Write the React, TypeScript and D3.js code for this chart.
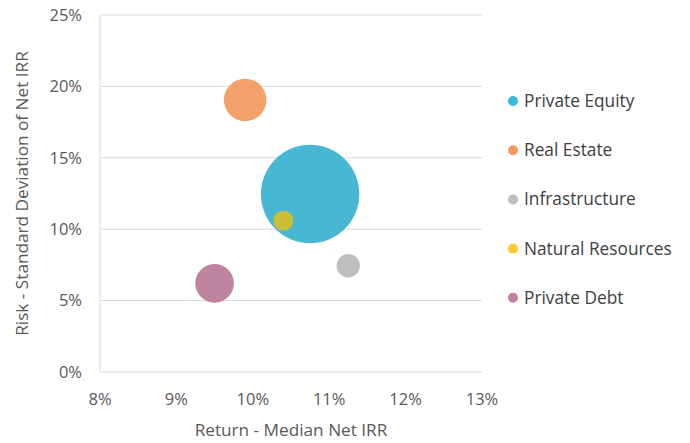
import React from "react";
import * as d3 from "d3";

const categories = ["Private Equity", "Real Estate", "Infrastructure", "Natural Resources", "Private Debt"];
const returns = [10.75, 9.9, 11.25, 10.4, 9.5];
const risks = [12.46, 19.05, 7.44, 10.6, 6.21];
const sizes = [100, 18.7, 5.6, 4.1, 15.4];
const colors = ["#41b5d3", "#f29f65", "#bcbcbc", "#cfbe31", "#bc7f9b"];
const legendColors = ["#3cb8d9", "#f29a60", "#bfbfbf", "#ffcc33", "#c07ea0"];
const xTicks = [8, 9, 10, 11, 12, 13];
const yTicks = [0, 5, 10, 15, 20, 25];

const W = 690, H = 443;
const left = 100, right = 482, top = 15, bottom = 372;
const font = "'Open Sans', sans-serif";

export default function App() {
  const x = d3.scaleLinear().domain([8, 13]).range([left, right]);
  const y = d3.scaleLinear().domain([0, 25]).range([bottom, top]);
  const r = d3.scaleSqrt().domain([0, 100]).range([0, 49.2]);
  const order = d3.range(categories.length).sort((a, b) => sizes[b] - sizes[a]);
  return (
    <svg width={W} height={H} style={{ position: "absolute", left: 0, top: 0, fontFamily: font }}>
      <rect width={W} height={H} fill="#fff" />
      {yTicks.map((t) => (
        <g key={t}>
          {t > 0 && <line x1={left} x2={right} y1={y(t)} y2={y(t)} stroke="#d9d9d9" strokeWidth={1} />}
          <text x={82} y={y(t)} dy="0.35em" textAnchor="end" fontSize={16.5} fill="#595959">{t}%</text>
        </g>
      ))}
      <line x1={left} x2={left} y1={top} y2={bottom} stroke="#d9d9d9" />
      <line x1={left} x2={right} y1={bottom} y2={bottom} stroke="#d9d9d9" />
      {xTicks.map((t) => (
        <text key={t} x={x(t)} y={405} textAnchor="middle" fontSize={16.5} fill="#595959">{t}%</text>
      ))}
      <text x={291} y={436} textAnchor="middle" fontSize={17.2} fill="#595959">Return - Median Net IRR</text>
      <text transform={`translate(28,${(top + bottom) / 2}) rotate(-90)`} textAnchor="middle" fontSize={17.2} fill="#595959">
        Risk - Standard Deviation of Net IRR
      </text>
      {order.map((i) => (
        <circle key={categories[i]} cx={x(returns[i])} cy={y(risks[i])} r={r(sizes[i])} fill={colors[i]} fillOpacity={0.97} />
      ))}
      {categories.map((c, i) => (
        <g key={c} transform={`translate(513,${101 + i * 49.2})`}>
          <circle r={5} fill={legendColors[i]} />
          <text x={11} dy="0.35em" fontSize={17.3} fill="#404040">{c}</text>
        </g>
      ))}
    </svg>
  );
}
